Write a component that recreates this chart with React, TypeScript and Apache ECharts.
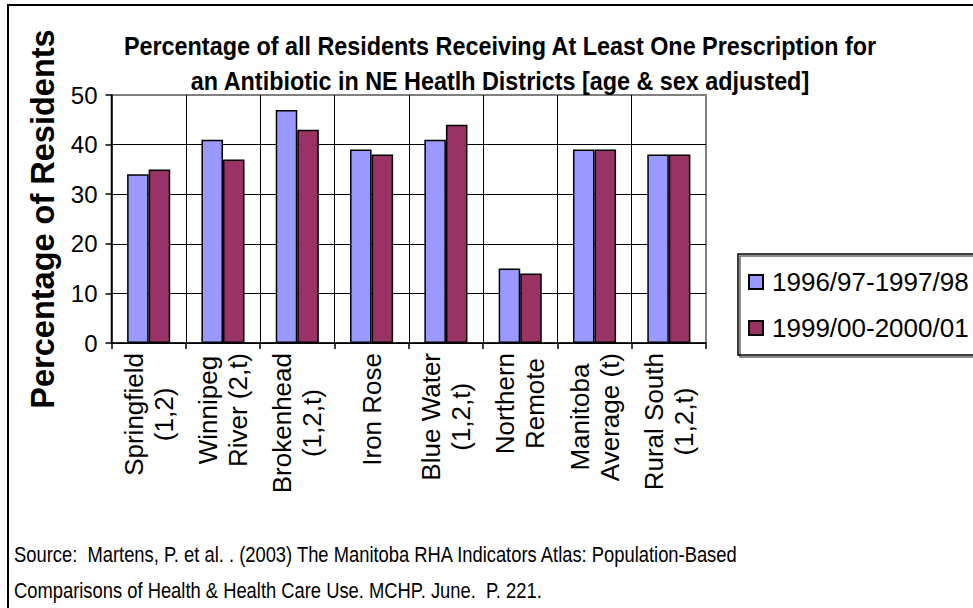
import React, { useEffect, useRef } from "react";
import * as echarts from "echarts";

const categories = [
  "Springfield\n(1,2)",
  "Winnipeg\nRiver (2,t)",
  "Brokenhead\n(1,2,t)",
  "Iron Rose",
  "Blue Water\n(1,2,t)",
  "Northern\nRemote",
  "Manitoba\nAverage (t)",
  "Rural South\n(1,2,t)",
];
const series9698 = [34, 41, 47, 39, 41, 15, 39, 38];
const series9901 = [35, 37, 43, 38, 44, 14, 39, 38];
const seriesNames = ["1996/97-1997/98", "1999/00-2000/01"];
const yTicks = { min: 0, max: 50, interval: 10 };

const titleLines = [
  "Percentage of all Residents Receiving At Least One Prescription for",
  "an Antibiotic in NE Heatlh Districts [age & sex adjusted]",
];
const sourceLines = [
  "Source:  Martens, P. et al. . (2003) The Manitoba RHA Indicators Atlas: Population-Based",
  "Comparisons of Health & Health Care Use. MCHP. June.  P. 221.",
];

const FONT = "'Liberation Sans', Arial, sans-serif";

export default function App() {
  const ref = useRef<HTMLDivElement>(null);

  useEffect(() => {
    if (!ref.current) return;
    const chart = echarts.init(ref.current, null, { renderer: "svg" });
    // last split line sits on the plot frame, which is grey
    const ySplitColors = ["#000", "#000", "#000", "#000", "#000", "#808080"];
    const xSplitColors = ["#000", "#000", "#000", "#000", "#000", "#000", "#000", "#000", "#808080"];

    chart.setOption({
      animation: false,
      backgroundColor: "#ffffff",
      textStyle: { fontFamily: FONT },
      legend: {
        orient: "vertical",
        left: 738,
        top: 254,
        padding: [15, 60, 14, 10],
        itemGap: 20,
        itemWidth: 14,
        itemHeight: 14,
        borderColor: "#000",
        borderWidth: 1.5,
        shadowColor: "rgba(0,0,0,0.6)",
        shadowOffsetX: 2,
        shadowOffsetY: 2,
        icon: "rect",
        textStyle: { fontFamily: FONT, fontSize: 26, color: "#000", padding: [0, 0, 0, 4] },
        data: seriesNames,
      },
      grid: {
        left: 111.5,
        right: 267,
        top: 95,
        bottom: 265,
        show: true,
        backgroundColor: "#ffffff",
        borderColor: "#808080",
        borderWidth: 2,
      },
      xAxis: {
        type: "category",
        data: categories,
        boundaryGap: true,
        axisLine: { lineStyle: { color: "#000", width: 1.5 } },
        axisTick: { show: true, interval: 0, length: 6, lineStyle: { color: "#000", width: 1.5 } },
        splitLine: { show: true, interval: 0, lineStyle: { color: xSplitColors, width: 1 } },
        axisLabel: {
          interval: 0,
          rotate: 90,
          margin: 10,
          color: "#000",
          fontSize: 26,
          lineHeight: 30,
          formatter: (v: string) =>
            v
              .split("\n")
              .map((s) => `{c|${s}}`)
              .join("\n"),
          rich: { c: { align: "center", fontSize: 26, lineHeight: 30, color: "#000" } },
        },
      },
      yAxis: {
        type: "value",
        min: yTicks.min,
        max: yTicks.max,
        interval: yTicks.interval,
        name: "Percentage of Residents",
        nameLocation: "middle",
        nameGap: 51,
        nameTextStyle: { fontFamily: FONT, fontWeight: "bold", fontSize: 32.5, color: "#000" },
        axisLine: { show: true, lineStyle: { color: "#000", width: 1.5 } },
        axisTick: { show: true, length: 6, lineStyle: { color: "#000", width: 1.5 } },
        splitLine: { show: true, lineStyle: { color: ySplitColors, width: 1 } },
        axisLabel: { color: "#000", fontSize: 24, margin: 14 },
      },
      series: [
        {
          name: seriesNames[0],
          type: "bar",
          data: series9698,
          barGap: "0%",
          barCategoryGap: "42%",
          itemStyle: { color: "#9999FF", borderColor: "#000", borderWidth: 1.5 },
        },
        {
          name: seriesNames[1],
          type: "bar",
          data: series9901,
          itemStyle: { color: "#993366", borderColor: "#000", borderWidth: 1.5 },
        },
      ],
      graphic: [
        {
          type: "rect",
          silent: true,
          z: 100,
          shape: { x: 8, y: 5, width: 1100, height: 800 },
          style: { fill: "none", stroke: "#000", lineWidth: 2 },
        },
        {
          // chart title, slightly condensed
          type: "text",
          x: 500,
          y: 29,
          scaleX: 0.935,
          style: {
            text: titleLines.join("\n"),
            font: `bold 25px ${FONT}`,
            align: "center",
            lineHeight: 35,
            fill: "#000",
          },
        },
        {
          type: "text",
          x: 14,
          y: 536,
          scaleX: 0.835,
          style: {
            text: sourceLines.join("\n"),
            font: `22px ${FONT}`,
            lineHeight: 36,
            fill: "#000",
          },
        },
      ],
    });
    return () => chart.dispose();
  }, []);

  return (
    <div
      ref={ref}
      style={{ position: "fixed", left: 0, top: 0, width: 973, height: 608 }}
    />
  );
}
